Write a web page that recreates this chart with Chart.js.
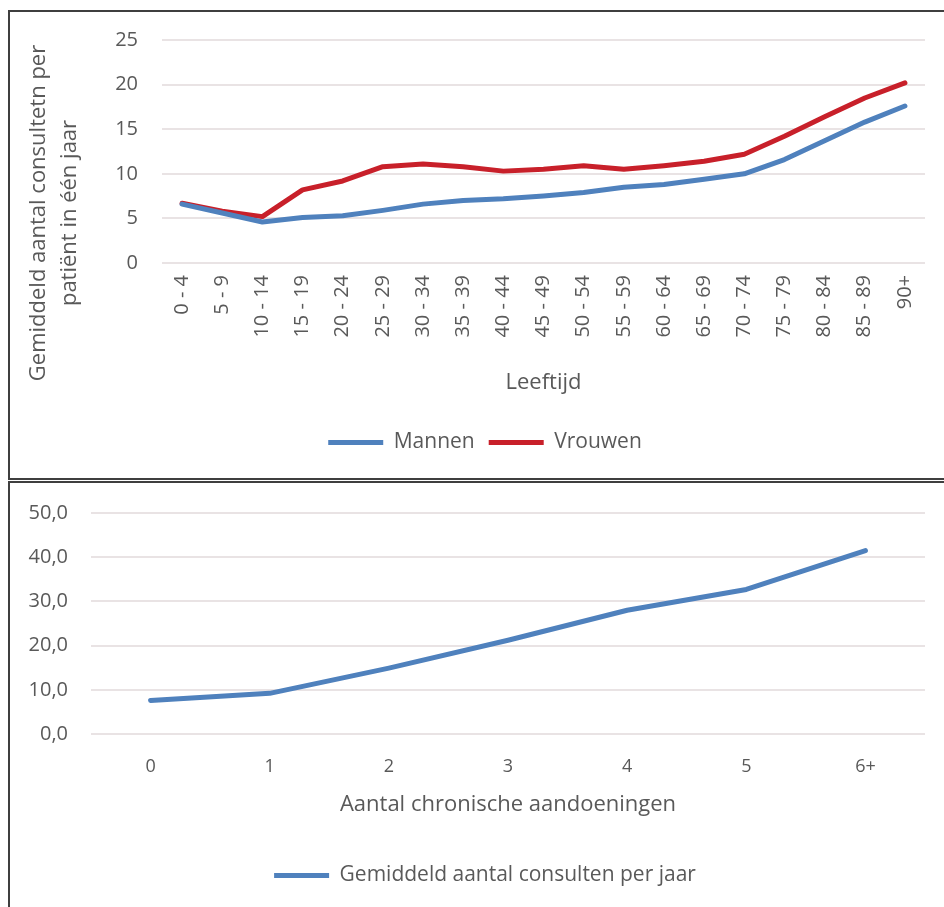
<!DOCTYPE html>
<html>
<head>
<meta charset="utf-8">
<script src="https://cdn.jsdelivr.net/npm/chart.js@4.4.1/dist/chart.umd.min.js"></script>
<style>
  html, body { margin: 0; padding: 0; background: #fff; overflow: hidden; }
  .frame { position: absolute; left: 8px; border: 2px solid #3f3f3f; background: #fff; }
  #frameAge { top: 10px; width: 948px; height: 466px; }
  #frameChronic { top: 481px; width: 948px; height: 440px; }
  .frame canvas { display: block; }
</style>
</head>
<body>
<div class="frame" id="frameAge"><canvas id="ageChart"></canvas></div>
<div class="frame" id="frameChronic"><canvas id="chronicChart"></canvas></div>
<script>
// Average number of GP consultations per patient per year, by age group and sex
const ageGroups = ['0 - 4', '5 - 9', '10 - 14', '15 - 19', '20 - 24', '25 - 29', '30 - 34',
  '35 - 39', '40 - 44', '45 - 49', '50 - 54', '55 - 59', '60 - 64', '65 - 69', '70 - 74',
  '75 - 79', '80 - 84', '85 - 89', '90+'];
const mannen = [6.6, 5.6, 4.6, 5.1, 5.3, 5.9, 6.6, 7.0, 7.2, 7.5, 7.9, 8.5, 8.8, 9.4, 10.0,
  11.6, 13.7, 15.8, 17.6];
const vrouwen = [6.7, 5.8, 5.2, 8.2, 9.2, 10.8, 11.1, 10.8, 10.3, 10.5, 10.9, 10.5, 10.9, 11.4,
  12.2, 14.2, 16.4, 18.5, 20.2];

// Average consultations per year by number of chronic conditions
const chronicCounts = ['0', '1', '2', '3', '4', '5', '6+'];
const consultsPerYear = [7.6, 9.2, 14.9, 21.2, 28.0, 32.7, 41.5];

const TEXT = '#595959';
const GRID = '#e9e3e4';
const BLUE = '#4f81bd';
const RED = '#c8202a';

Chart.defaults.font.family = "'Open Sans', 'Liberation Sans', sans-serif";
Chart.defaults.color = TEXT;

// Two-line vertical title for the age chart's value axis
const sideTitle = {
  id: 'sideTitle',
  afterDraw(chart, args, opts) {
    const ctx = chart.ctx;
    ctx.save();
    ctx.fillStyle = TEXT;
    ctx.font = opts.size + "px 'Open Sans', sans-serif";
    ctx.textAlign = 'center';
    ctx.textBaseline = 'middle';
    opts.lines.forEach((line, i) => {
      ctx.save();
      ctx.translate(opts.x[i], opts.y);
      ctx.rotate(-Math.PI / 2);
      ctx.fillText(line, 0, 0);
      ctx.restore();
    });
    ctx.restore();
  }
};

// Fixed-width value axis; keep the label gap from pushing the plot down
function fixValueAxis(width) {
  return function (scale) {
    scale.width = width;
    scale.paddingTop = 12;
    scale.paddingBottom = 12;
  };
}

const lineStyle = {
  borderWidth: 5,
  pointRadius: 0,
  pointHoverRadius: 0,
  tension: 0,
  borderCapStyle: 'round',
  borderJoinStyle: 'round',
  fill: false
};

const legendLabels = {
  usePointStyle: true,
  pointStyle: 'line',
  pointStyleWidth: 55,
  padding: 14,
  color: TEXT,
  font: { size: 21 }
};

new Chart(document.getElementById('ageChart'), {
  type: 'line',
  data: {
    labels: ageGroups,
    datasets: [
      Object.assign({ label: 'Mannen', data: mannen, borderColor: BLUE, backgroundColor: BLUE }, lineStyle),
      Object.assign({ label: 'Vrouwen', data: vrouwen, borderColor: RED, backgroundColor: RED }, lineStyle)
    ]
  },
  options: {
    responsive: true,
    maintainAspectRatio: false,
    animation: false,
    layout: { autoPadding: false, padding: { left: 35, right: 33, top: 28, bottom: 15 } },
    plugins: {
      legend: { position: 'bottom', labels: legendLabels },
      tooltip: { enabled: false },
      sideTitle: { lines: ['Gemiddeld aantal consultetn per', 'patiënt in één jaar'], x: [29, 60], y: 201, size: 22 }
    },
    scales: {
      x: {
        offset: true,
        grid: { display: false, drawTicks: false },
        border: { display: false },
        ticks: { color: TEXT, font: { size: 20 }, minRotation: 90, maxRotation: 90, autoSkip: false, padding: 12 },
        title: { display: true, text: 'Leeftijd', color: TEXT, font: { size: 22 }, padding: { top: 0, bottom: 22 } },
        afterFit(scale) { scale.height = 155; }
      },
      y: {
        min: 0,
        max: 25,
        ticks: { stepSize: 5, padding: 24, color: TEXT, font: { size: 20 } },
        grid: { color: GRID, lineWidth: 2, drawTicks: false },
        border: { display: false },
        afterFit: fixValueAxis(117)
      }
    }
  },
  plugins: [sideTitle]
});

new Chart(document.getElementById('chronicChart'), {
  type: 'line',
  data: {
    labels: chronicCounts,
    datasets: [
      Object.assign({ label: 'Gemiddeld aantal consulten per jaar', data: consultsPerYear, borderColor: BLUE, backgroundColor: BLUE }, lineStyle)
    ]
  },
  options: {
    responsive: true,
    maintainAspectRatio: false,
    animation: false,
    layout: { autoPadding: false, padding: { left: 14, right: 12, top: 30, bottom: 27 } },
    plugins: {
      legend: { position: 'bottom', labels: legendLabels },
      tooltip: { enabled: false }
    },
    scales: {
      x: {
        offset: true,
        grid: { display: false, drawTicks: false },
        border: { display: false },
        ticks: { color: TEXT, font: { size: 18 }, maxRotation: 0, padding: 22 },
        title: { display: true, text: 'Aantal chronische aandoeningen', color: TEXT, font: { size: 22 }, padding: { top: 0, bottom: 33 } },
        afterFit(scale) { scale.height = 117; }
      },
      y: {
        min: 0,
        max: 50,
        ticks: {
          stepSize: 10, padding: 23, color: TEXT, font: { size: 20 },
          callback: v => v.toFixed(1).replace('.', ',')
        },
        grid: { color: GRID, lineWidth: 2, drawTicks: false },
        border: { display: false },
        afterFit: fixValueAxis(67)
      },
      // empty right-hand margin so the legend sits centred on the frame
      yRight: {
        position: 'right',
        grid: { display: false, drawTicks: false },
        border: { display: false },
        ticks: { display: false },
        afterFit(scale) { scale.width = 21; }
      }
    }
  }
});
</script>
</body>
</html>
